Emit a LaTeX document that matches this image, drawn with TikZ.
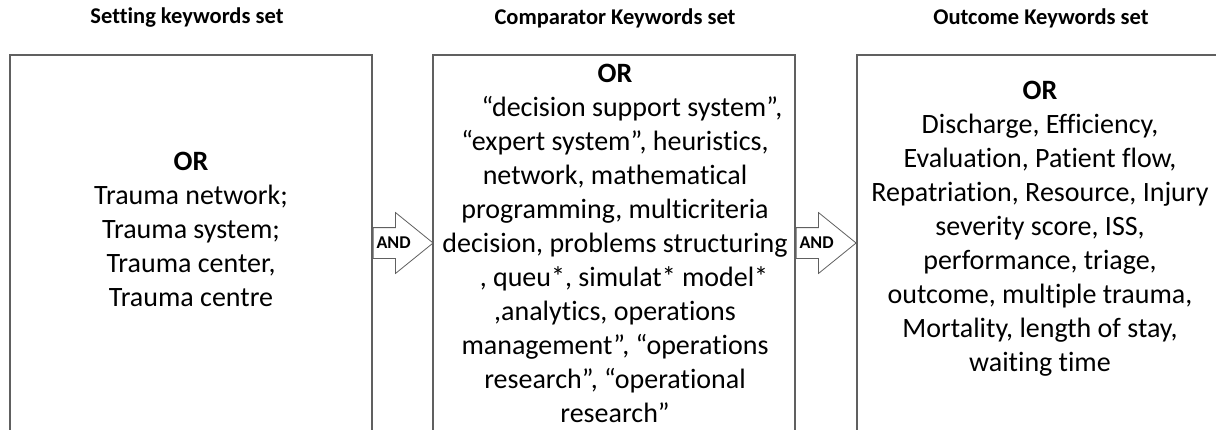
\documentclass[tikz,border=0pt]{standalone}
\usepackage{fontspec}
\setmainfont{Carlito}[Ligatures=NoCommon]
\usetikzlibrary{shapes.arrows}

\begin{document}
\begin{tikzpicture}
[x=1pt,y=-1pt,
  boxDecorate/.style={shape=rectangle,draw=gray!75!black,line width=1.4pt,
    minimum width=362pt,minimum height=420pt,inner sep=0pt},
  titleDecorate/.style={font=\fontsize{22.5}{26}\selectfont\bfseries,inner sep=0pt},
  textDecorate/.style={font=\fontsize{28}{34}\selectfont,align=center,
    anchor=north,inner sep=0pt},
  arrowDecorate/.style={shape=single arrow,draw=gray!75!black,line width=0.8pt,
    fill=white,minimum height=60pt,single arrow head extend=15pt,
    single arrow tip angle=78,inner xsep=1pt,inner ysep=9.5pt,
    text height=11pt,text depth=0pt,font=\fontsize{18}{20}\selectfont\bfseries}]
\useasboundingbox (0,0) rectangle (1216,429);
\clip (0,0) rectangle (1216,429);
%% titles
\foreach \nodename/\x/\txt in {
  settingtitle/187/Setting keywords set,
  comparatortitle/615/Comparator Keywords set,
  outcometitle/1041/Outcome Keywords set}
{
  \node (\nodename) at (\x,18) [titleDecorate] {\txt};
}
%% boxes (running off the page at the bottom)
\foreach \nodename/\x in {setting/191, comparator/614, outcome/1038}
{
  \node (\nodename) at (\x,265) [boxDecorate] {};
}
%% box contents
\node (settingtext) at (191,152) [textDecorate] {\textbf{OR}\\
  Trauma network;\\ Trauma system;\\ Trauma center,\\ Trauma centre};
\node (comparatortext) at (615,64) [textDecorate] {\textbf{OR}\\
  \hspace*{34pt}“decision support system”,\\
  “expert system”, heuristics,\\
  network, mathematical\\
  programming, multicriteria\\
  decision, problems structuring\\
  \hspace*{18pt}, queu*, simulat* model*\\
  ,analytics, operations\\
  management”, “operations\\
  research”, “operational\\
  research”};
\node (outcometext) at (1040,81) [textDecorate] {\textbf{OR}\\
  Discharge, Efficiency,\\
  Evaluation, Patient flow,\\
  Repatriation, Resource, Injury\\
  severity score, ISS,\\
  performance, triage,\\
  outcome, multiple trauma,\\
  Mortality, length of stay,\\
  waiting time};
%% AND arrows between the boxes
\coordinate (arrowrow) at (0,243);
\node (and1) at (setting.east |- arrowrow) [arrowDecorate,anchor=tail] {AND};
\node (and2) at (comparator.east |- arrowrow) [arrowDecorate,anchor=tail] {AND};
\end{tikzpicture}
\end{document}
